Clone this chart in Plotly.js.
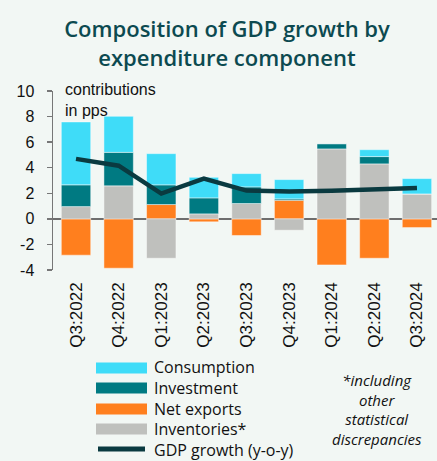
<!DOCTYPE html>
<html>
<head>
<meta charset="utf-8">
<script src="https://cdn.plot.ly/plotly-3.0.1.min.js"></script>
<style>
html,body{margin:0;padding:0;background:#f2f7f4;}
#chart{width:437px;height:461px;}
</style>
</head>
<body>
<div id="chart"></div>
<script>
const categories = ["Q3:2022","Q4:2022","Q1:2023","Q2:2023","Q3:2023","Q4:2023","Q1:2024","Q2:2024","Q3:2024"];
const consumption = [4.92, 2.82, 2.44, 1.61, 1.04, 1.51, 0.0, 0.54, 1.2];
const investment  = [1.70, 2.62, 1.54, 1.25, 1.30, 0.11, 0.41, 0.57, 0.0];
const netExports  = [-2.84, -3.86, 1.12, -0.23, -1.30, 1.45, -3.60, -3.08, -0.68];
const inventories = [0.96, 2.58, -3.08, 0.39, 1.20, -0.89, 5.47, 4.30, 1.95];
const gdpGrowth   = [4.69, 4.16, 1.98, 3.15, 2.21, 2.13, 2.20, 2.31, 2.42];
const seriesNames = ["Consumption","Investment","Net exports","Inventories*","GDP growth (y-o-y)"];
const yTicks = [-4,-2,0,2,4,6,8,10];

const C_CONS = "#3fdcf8", C_INV = "#007a82", C_NX = "#ff7f1e", C_INVT = "#bfc0bd", C_GDP = "#0a3a40";
const edge = {color:"rgba(255,255,255,0.45)", width:1};

const traces = [
  {type:"bar", name:seriesNames[2], x:categories, y:netExports, marker:{color:C_NX, line:edge}, showlegend:false},
  {type:"bar", name:seriesNames[3], x:categories, y:inventories, marker:{color:C_INVT, line:edge}, showlegend:false},
  {type:"bar", name:seriesNames[1], x:categories, y:investment, marker:{color:C_INV, line:edge}, showlegend:false},
  {type:"bar", name:seriesNames[0], x:categories, y:consumption, marker:{color:C_CONS, line:edge}, showlegend:false},
  {type:"scatter", mode:"lines", name:seriesNames[4], x:categories, y:gdpGrowth, line:{color:C_GDP, width:4.5}, showlegend:false}
];

// plot-area pixel geometry (for the hand-drawn legend)
const L = 53, R = 437, T = 91, B = 270;
const px = p => (p - L) / (R - L);
const py = p => (B - p) / (B - T);

const shapes = [];
const annotations = [];
const rowY = [368, 388, 409, 429, 449];
const swatchColors = [C_CONS, C_INV, C_NX, C_INVT];
for (let i = 0; i < 4; i++) {
  shapes.push({type:"rect", xref:"paper", yref:"paper", x0:px(96), x1:px(147), y0:py(rowY[i]+5.5), y1:py(rowY[i]-5.5), fillcolor:swatchColors[i], line:{width:0}});
}
shapes.push({type:"line", xref:"paper", yref:"paper", x0:px(98), x1:px(145), y0:py(rowY[4]), y1:py(rowY[4]), line:{color:C_GDP, width:5}});
// legend labels as one multi-line text block
annotations.push({xref:"paper", yref:"paper", x:px(152), y:py((rowY[0]+rowY[4])/2), xanchor:"left", yanchor:"middle", showarrow:false,
  align:"left", text:seriesNames.join("<br>"), font:{family:"Open Sans, sans-serif", size:16, color:"#111"}});
annotations.push({xref:"paper", yref:"paper", x:px(377), y:py(409), xanchor:"center", yanchor:"middle", showarrow:false,
  text:"<i>*including<br>other<br>statistical<br>discrepancies</i>", align:"center",
  font:{family:"Open Sans, sans-serif", size:15, color:"#111"}});
annotations.push({xref:"paper", yref:"paper", x:px(63), y:py(79), xanchor:"left", yanchor:"top", showarrow:false, align:"left",
  text:"contributions<br>in pps", font:{family:"Liberation Sans, Arial, sans-serif", size:16, color:"#111"}});

const layout = {
  width:437, height:461,
  paper_bgcolor:"#f2f7f4", plot_bgcolor:"#f2f7f4",
  margin:{l:L, r:437-R, t:T, b:461-B, pad:0},
  barmode:"relative", bargap:0.31,
  showlegend:false,
  title:{text:"Composition of GDP growth by<br>expenditure component", x:227/437, xanchor:"center", xref:"container",
    y:1-37/461, yanchor:"top", yref:"container",
    font:{family:"Open Sans, sans-serif", size:22, weight:600, color:"#0c4a50"}},
  xaxis:{type:"category", range:[-0.54, 8.47], showline:false, showgrid:false, zeroline:false, ticks:"",
    tickangle:-90, tickfont:{family:"Liberation Sans, Arial, sans-serif", size:17, color:"#111"}, ticklabelstandoff:8},
  yaxis:{range:[-4,10], tickvals:yTicks, ticktext:yTicks.map(String), showgrid:false,
    showline:true, linecolor:"#777", linewidth:1.5, ticks:"outside", ticklen:5, tickwidth:1.5, tickcolor:"#777",
    zeroline:true, zerolinecolor:"#6e6e6e", zerolinewidth:1.5,
    tickfont:{family:"Liberation Sans, Arial, sans-serif", size:16, color:"#111"}, ticklabelstandoff:9},
  shapes:shapes, annotations:annotations
};

Plotly.newPlot("chart", traces, layout, {staticPlot:true, displayModeBar:false});
</script>
</body>
</html>
